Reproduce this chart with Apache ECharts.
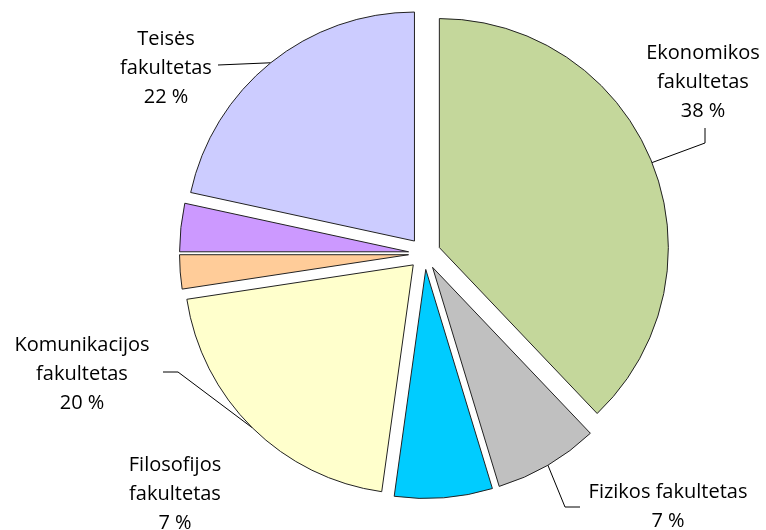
<!DOCTYPE html>
<html>
<head>
<meta charset="utf-8">
<script src="https://cdn.jsdelivr.net/npm/echarts@6/dist/echarts.min.js"></script>
<style>
  html, body { margin: 0; padding: 0; background: #fff; }
  #chart { width: 766px; height: 530px; }
</style>
</head>
<body>
<div id="chart"></div>
<script>
// Faculty shares, clockwise from 12 o'clock
const faculties = [
  'Ekonomikos fakultetas',
  'Fizikos fakultetas',
  'Filosofijos fakultetas',
  'Komunikacijos fakultetas',
  'Kiti 1',
  'Kiti 2',
  'Teisės fakultetas'
];
const shares = [37.9, 7.4, 6.9, 20.4, 2.4, 3.4, 21.6];
const sliceColors = ['#C4D79B', '#C0C0C0', '#00CCFF', '#FFFFCC', '#FFCC99', '#CC99FF', '#CCCCFF'];

// Pie geometry
const CX = 424.5, CY = 253.5, R = 229, OFFSET = 16;

// Label placement: text centre, whether the name wraps, and leader-line bends
const labelLayouts = [
  { x: 703, y: 82, wrap: true, line: [[705, 143], [705, 128]] },
  { x: 668, y: 507, wrap: false, line: [[565, 507], [580, 507]] },
  { x: 175, y: 494, wrap: true, line: null },
  { x: 82, y: 374, wrap: true, line: [[178, 372], [163, 372]] },
  null,
  null,
  { x: 166, y: 68, wrap: true, line: [[218, 65]] }
];

const total = shares.reduce((a, b) => a + b, 0);
const midAngles = [];
let acc = 0;
shares.forEach(v => { midAngles.push((acc + v / 2) / total * Math.PI * 2); acc += v; });

// Text labels and leader lines anchored at each slice's outer arc midpoint
const graphics = [];
labelLayouts.forEach((cfg, i) => {
  if (!cfg) return;
  const name = cfg.wrap ? faculties[i].replace(' ', '\n') : faculties[i];
  const pct = Math.round(shares[i] / total * 100);
  graphics.push({
    type: 'text',
    x: cfg.x,
    y: cfg.y,
    silent: true,
    style: {
      text: name + '\n' + pct + ' %',
      fontFamily: 'Open Sans',
      fontSize: 20,
      lineHeight: 29,
      fill: '#000',
      align: 'center',
      verticalAlign: 'middle'
    }
  });
  if (cfg.line) {
    const a = midAngles[i];
    const start = [CX + (R + OFFSET) * Math.sin(a), CY - (R + OFFSET) * Math.cos(a)];
    graphics.push({
      type: 'polyline',
      silent: true,
      shape: { points: [start].concat(cfg.line) },
      style: { stroke: '#000', lineWidth: 1, fill: null }
    });
  }
});

const chart = echarts.init(document.getElementById('chart'), null, { renderer: 'canvas' });

chart.setOption({
  animation: false,
  backgroundColor: '#ffffff',
  graphic: graphics,
  series: [{
    type: 'pie',
    center: [CX, CY],
    radius: R,
    startAngle: 90,
    clockwise: true,
    selectedMode: 'multiple',
    selectedOffset: OFFSET,
    emphasis: { disabled: true },
    itemStyle: { borderColor: '#222', borderWidth: 1 },
    label: { show: false },
    labelLine: { show: false },
    data: faculties.map((name, i) => ({
      name: name,
      value: shares[i],
      selected: true,
      itemStyle: { color: sliceColors[i] }
    }))
  }]
});
</script>
</body>
</html>
